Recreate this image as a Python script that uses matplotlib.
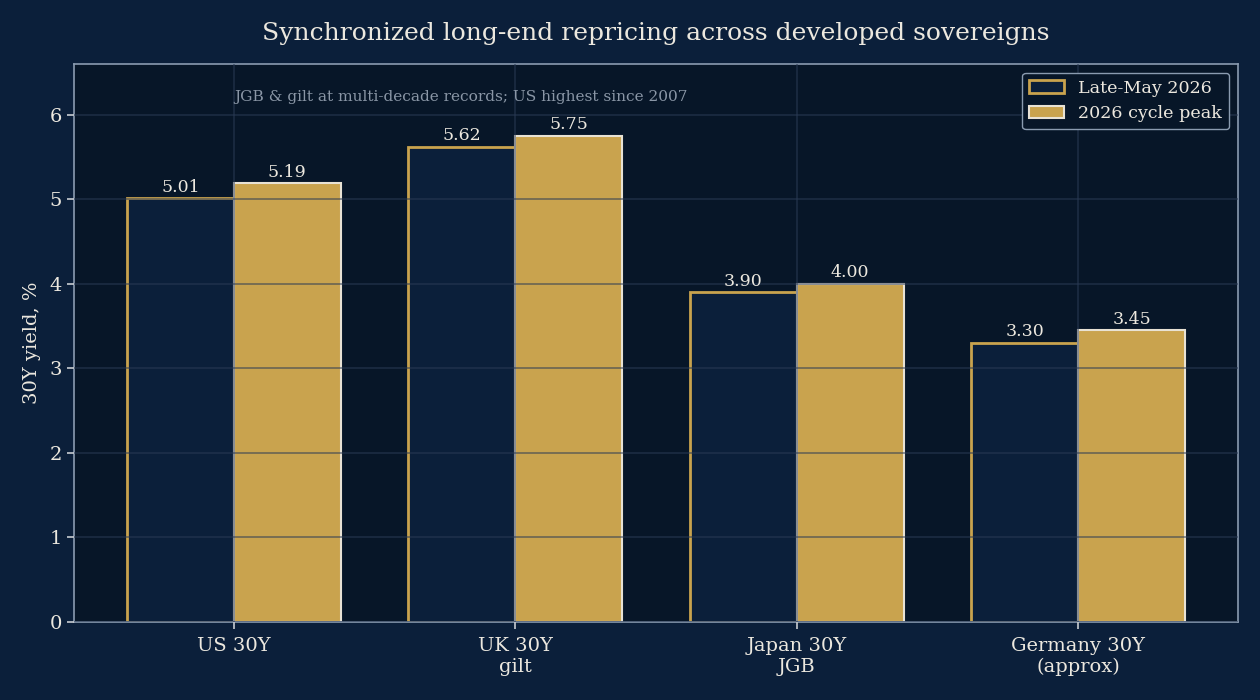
import matplotlib.pyplot as plt
import numpy as np

# 30Y sovereign yields, %
markets = ['US 30Y', 'UK 30Y\ngilt', 'Japan 30Y\nJGB', 'Germany 30Y\n(approx)']
late_may = [5.01, 5.62, 3.90, 3.30]
cycle_peak = [5.19, 5.75, 4.00, 3.45]

BG = '#0b1f3a'
AX_BG = '#071628'
GOLD = '#c9a34e'
TXT = '#ece8df'
EDGE = '#8a9bb0'

plt.rcParams['font.family'] = 'DejaVu Serif'
fig = plt.figure(figsize=(12.6, 7), dpi=100, facecolor=BG)
ax = fig.add_axes([0.0587, 0.1114, 0.9238, 0.7972], facecolor=AX_BG)

x = np.arange(len(markets))
w = 0.38
b1 = ax.bar(x - w / 2, late_may, w, color=BG, edgecolor=GOLD, linewidth=2, label='Late-May 2026')
b2 = ax.bar(x + w / 2, cycle_peak, w, color=GOLD, edgecolor='#e8e2d4', linewidth=1.5, label='2026 cycle peak')

for bars, vals in ((b1, late_may), (b2, cycle_peak)):
    for r, v in zip(bars, vals):
        ax.text(r.get_x() + r.get_width() / 2, v + 0.03, f'{v:.2f}', ha='center', va='bottom',
                color=TXT, fontsize=12.5)

ax.set_ylim(0, 6.6)
ax.set_xticks(x)
ax.set_xticklabels(markets, fontsize=14, color=TXT)
ax.tick_params(axis='both', colors='#c8ccd2', length=5, width=1.2)
ax.tick_params(axis='y', labelsize=14, labelcolor=TXT)
ax.tick_params(axis='x', labelcolor=TXT, pad=6)
ax.set_ylabel('30Y yield, %', color=TXT, fontsize=14, labelpad=6)
ax.set_title('Synchronized long-end repricing across developed sovereigns', color=TXT, fontsize=18, pad=17)
ax.grid(True, color='#2a3a55', alpha=0.6, linewidth=1.2)
ax.set_axisbelow(False)
for s in ax.spines.values():
    s.set_color(EDGE)
    s.set_linewidth(1.2)

ax.text(0.138, 0.94, 'JGB & gilt at multi-decade records; US highest since 2007', transform=ax.transAxes,
        color='#8a96a6', fontsize=11.1, va='center', ha='left')

leg = ax.legend(loc='upper right', fontsize=12.6, facecolor=AX_BG, edgecolor=EDGE, labelcolor=TXT, framealpha=1)

fig.savefig('out.png', dpi=100, facecolor=BG)
